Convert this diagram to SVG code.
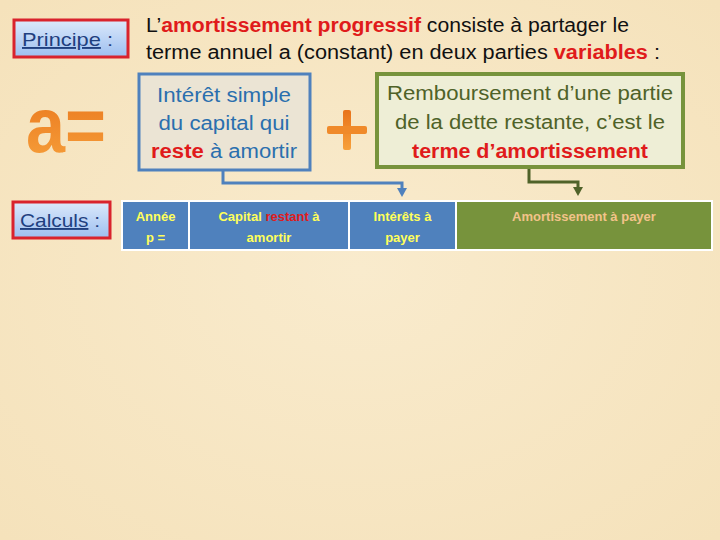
<svg xmlns="http://www.w3.org/2000/svg" width="720" height="540" viewBox="0 0 720 540">
<defs>
<linearGradient id="lbl" x1="0" y1="0" x2="0" y2="1"><stop offset="0" stop-color="#dce9fb"/><stop offset="1" stop-color="#9dbff0"/></linearGradient>
<linearGradient id="org" x1="0" y1="0" x2="0" y2="1"><stop offset="0" stop-color="#e8731a"/><stop offset="1" stop-color="#f7a13c"/></linearGradient>
<radialGradient id="bg" cx="0.5" cy="0.5" r="0.7"><stop offset="0" stop-color="#f9ebcd"/><stop offset="1" stop-color="#f5e2bb"/></radialGradient>
<marker id="ab" markerWidth="10" markerHeight="10" refX="5" refY="2" orient="0" markerUnits="userSpaceOnUse" viewBox="0 0 10 10"><path d="M0,0 L10,0 L5,9 Z" fill="#4f81bd"/></marker>
<marker id="ag" markerWidth="10" markerHeight="10" refX="5" refY="2" orient="0" markerUnits="userSpaceOnUse" viewBox="0 0 10 10"><path d="M0,0 L10,0 L5,9 Z" fill="#4f6228"/></marker>
</defs>
<style>
text{font-family:"Liberation Sans",Arial,sans-serif}
.lbl{fill:url(#lbl);stroke:#d9232d;stroke-width:3}
.lblt{font-size:19px;fill:#1f3f7f}
.ttl{font-size:20px;fill:#111}
.bt{font-size:20px;fill:#2a6fae;text-anchor:middle}
.gt{font-size:20px;fill:#4f6228;text-anchor:middle}
.red{fill:#e01b1b;font-weight:bold}
.cb{fill:#4f81bd;stroke:#fff;stroke-width:2}
.cg{fill:#77933c;stroke:#fff;stroke-width:2}
.ct{font-size:13px;font-weight:bold;fill:#ffff5a;text-anchor:middle}
.cgt{font-size:13px;font-weight:bold;fill:#f2c38a;text-anchor:middle}
.big{font-weight:bold;fill:url(#org)}
</style>
<rect width="720" height="540" fill="url(#bg)"/>

<g id="principe">
<rect class="lbl" x="14" y="20" width="114" height="37"/>
<text class="lblt" x="22" y="46" textLength="91" lengthAdjust="spacingAndGlyphs"><tspan text-decoration="underline">Principe</tspan> :</text>
</g>

<g id="title">
<text class="ttl" x="146" y="32" textLength="483" lengthAdjust="spacingAndGlyphs">L’<tspan class="red">amortissement progressif</tspan> consiste à partager le</text>
<text class="ttl" x="146" y="59" textLength="514" lengthAdjust="spacingAndGlyphs">terme annuel a (constant) en deux parties <tspan class="red">variables</tspan> :</text>
</g>

<g id="a-eq">
<text class="big" x="26" y="152" font-size="78" textLength="80" lengthAdjust="spacingAndGlyphs">a=</text>
</g>

<g id="interet">
<rect x="139" y="74" width="171" height="96" fill="#ebe4d4" stroke="#4f81bd" stroke-width="3"/>
<text class="bt" x="224" y="102" textLength="134" lengthAdjust="spacingAndGlyphs">Intérêt simple</text>
<text class="bt" x="224" y="130" textLength="131" lengthAdjust="spacingAndGlyphs">du capital qui</text>
<text class="bt" x="224" y="158" textLength="146" lengthAdjust="spacingAndGlyphs"><tspan class="red">reste</tspan> à amortir</text>
</g>

<g id="plus">
<rect x="343" y="110" width="8" height="40" fill="url(#org)" rx="2"/>
<rect x="327" y="126" width="40" height="8" fill="#f08a2a" rx="2"/>
</g>

<g id="remboursement">
<rect x="377" y="74" width="306" height="93" fill="#eeeed6" stroke="#77933c" stroke-width="4"/>
<text class="gt" x="530" y="100" textLength="286" lengthAdjust="spacingAndGlyphs">Remboursement d’une partie</text>
<text class="gt" x="530" y="129" textLength="270" lengthAdjust="spacingAndGlyphs">de la dette restante, c’est le</text>
<text x="530" y="158" font-size="20" font-weight="bold" fill="#e01b1b" text-anchor="middle" textLength="236" lengthAdjust="spacingAndGlyphs">terme d’amortissement</text>
</g>

<g id="calculs">
<rect class="lbl" x="13" y="202" width="97" height="36"/>
<text class="lblt" x="20" y="227" textLength="80" lengthAdjust="spacingAndGlyphs"><tspan text-decoration="underline">Calculs</tspan> :</text>
</g>

<g id="table">
<rect class="cb" x="122" y="201" width="67" height="49"/>
<text class="ct" x="155.5" y="221">Année</text>
<text class="ct" x="155.5" y="242">p =</text>
<rect class="cb" x="189" y="201" width="160" height="49"/>
<text class="ct" x="269" y="221">Capital <tspan fill="#e01b1b">restant</tspan> à</text>
<text class="ct" x="269" y="242">amortir</text>
<rect class="cb" x="349" y="201" width="107" height="49"/>
<text class="ct" x="402.5" y="221">Intérêts à</text>
<text class="ct" x="402.5" y="242">payer</text>
<rect class="cg" x="456" y="201" width="256" height="49"/>
<text class="cgt" x="584" y="221">Amortissement à payer</text>
</g>

<g id="connectors" fill="none" stroke-width="3">
<path d="M223,171 V183 H402 V190" stroke="#4f81bd" marker-end="url(#ab)"/>
<path d="M529,169 V182 H578 V189" stroke="#4f6228" marker-end="url(#ag)"/>
</g>
</svg>
